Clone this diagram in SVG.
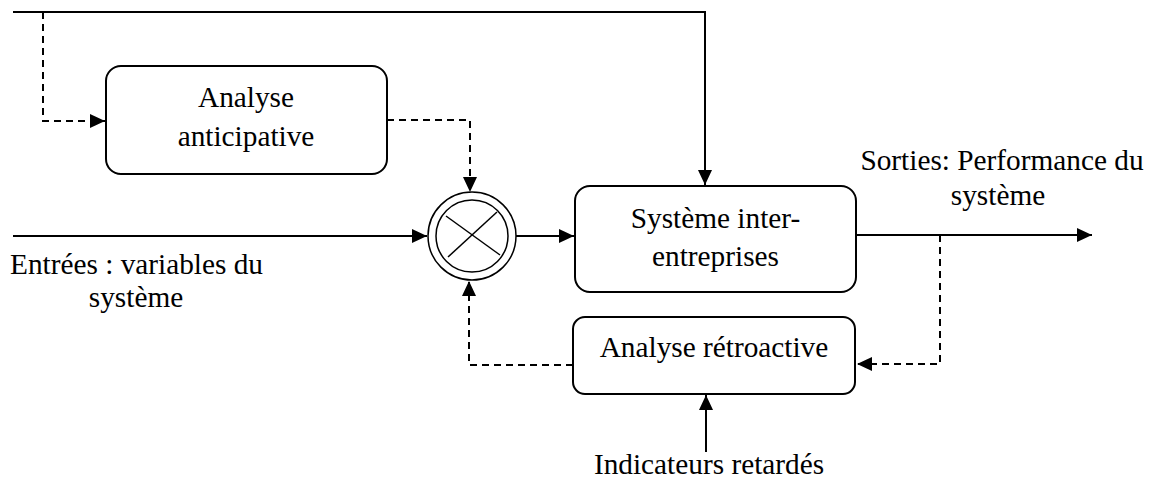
<svg xmlns="http://www.w3.org/2000/svg" width="1149" height="479" viewBox="0 0 1149 479">
  <defs>
    <marker id="arr" markerUnits="userSpaceOnUse" markerWidth="16" markerHeight="15" refX="15" refY="7" orient="auto">
      <path d="M0,0 L15,7 L0,14 Z" fill="#000"/>
    </marker>
    <style>
      .box { fill: #fff; stroke: #000; stroke-width: 2; }
      .t { font-family: "Liberation Serif", "Times New Roman", serif; font-size: 29.3px; fill: #000; }
      .solid { fill: none; stroke: #000; stroke-width: 2; }
      .dash { fill: none; stroke: #000; stroke-width: 2; stroke-dasharray: 7 5; }
      .thin { fill: none; stroke: #000; stroke-width: 1.5; }
    </style>
  </defs>
  <rect width="1149" height="479" fill="#fff"/>

  <g id="connectors">
    <polyline class="solid" points="13,12 705,12 705,185" marker-end="url(#arr)"/>
    <polyline class="dash" points="43,12 43,121 105,121" marker-end="url(#arr)"/>
    <polyline class="dash" points="387,120 470,120 470,192" marker-end="url(#arr)"/>
    <line class="solid" x1="13" y1="236" x2="427" y2="236" marker-end="url(#arr)"/>
    <line class="solid" x1="516" y1="236" x2="574" y2="236" marker-end="url(#arr)"/>
    <line class="solid" x1="857" y1="235" x2="1092" y2="235" marker-end="url(#arr)"/>
    <polyline class="dash" points="940,235 940,364 857,364" marker-end="url(#arr)"/>
    <polyline class="dash" points="573,365 469,365 469,281" marker-end="url(#arr)"/>
    <line class="solid" x1="706" y1="452" x2="706" y2="395" marker-end="url(#arr)"/>
  </g>

  <g id="anticipative">
    <rect class="box" x="106" y="66" width="281" height="108" rx="15"/>
    <text class="t" x="246" y="107" text-anchor="middle">Analyse</text>
    <text class="t" x="246" y="146" text-anchor="middle">anticipative</text>
  </g>

  <g id="comparator">
    <circle cx="472" cy="236" r="44" fill="#fff" stroke="#000" stroke-width="1.5"/>
    <circle cx="472" cy="236" r="36" fill="none" stroke="#000" stroke-width="1.5"/>
    <line class="thin" x1="446" y1="216" x2="500" y2="255"/>
    <line class="thin" x1="497" y1="212" x2="448" y2="257"/>
  </g>

  <g id="systeme">
    <rect class="box" x="575" y="186" width="281" height="106" rx="15"/>
    <text class="t" x="715.5" y="228" text-anchor="middle">Système inter-</text>
    <text class="t" x="715.5" y="266" text-anchor="middle">entreprises</text>
  </g>

  <g id="retroactive">
    <rect class="box" x="573" y="317" width="282" height="77" rx="12"/>
    <text class="t" x="714" y="357" text-anchor="middle">Analyse rétroactive</text>
  </g>

  <g id="entrees">
    <text class="t" x="10" y="274">Entrées : variables du</text>
    <text class="t" x="136" y="307" text-anchor="middle">système</text>
  </g>

  <g id="sorties">
    <text class="t" x="1002" y="170" text-anchor="middle">Sorties: Performance du</text>
    <text class="t" x="998" y="205" text-anchor="middle">système</text>
  </g>

  <g id="indicateurs">
    <text class="t" x="709" y="474" text-anchor="middle">Indicateurs retardés</text>
  </g>
</svg>
